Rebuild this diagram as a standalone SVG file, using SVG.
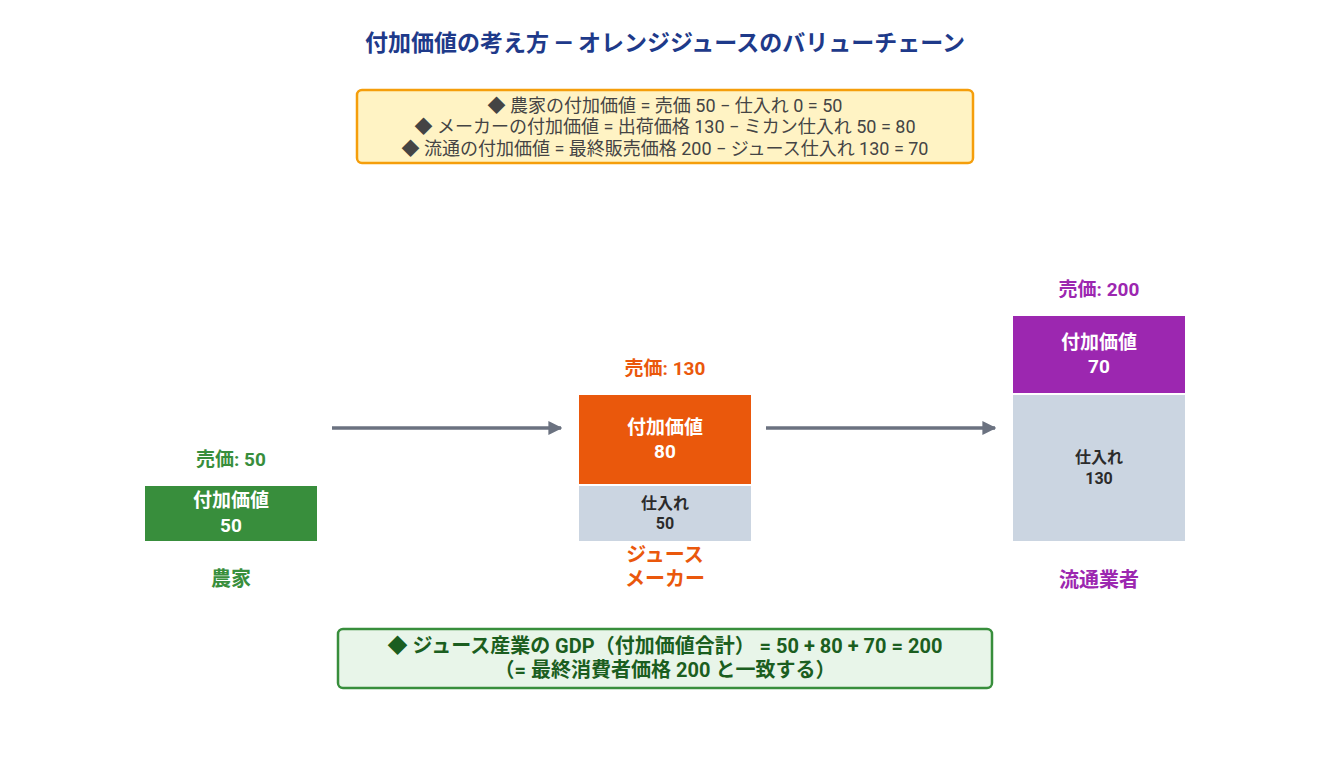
<svg xmlns="http://www.w3.org/2000/svg" width="1329" height="782" viewBox="0 0 1329 782">
<style>
text{font-family:"Roboto","Noto Sans CJK JP",sans-serif;text-anchor:middle}
.b{font-weight:bold}
.w{fill:#fff;font-weight:bold;font-size:19px}
.g{fill:#2b2b2b;font-weight:bold;font-size:16px}
.inp{fill:#cbd5e1;stroke:#fff;stroke-width:2}
</style>
<defs><marker id="ah" viewBox="0 0 10 10" refX="9" refY="5" markerWidth="4" markerHeight="4" orient="auto"><path d="M0,0L10,5L0,10z" fill="#6b7280"/></marker></defs>
<rect width="1329" height="782" fill="#fff"/>
<text x="665" y="51" class="b" font-size="23" fill="#1e3a8a">付加価値の考え方 ― オレンジジュースのバリューチェーン</text>
<g id="formula">
<rect x="357" y="90" width="616" height="73" rx="5" fill="#fff3c4" stroke="#f59e0b" stroke-width="2.5"/>
<text x="665" y="112" font-size="18" fill="#444">◆ 農家の付加価値 = 売価 50 − 仕入れ 0 = 50</text>
<text x="665" y="133" font-size="18" fill="#444">◆ メーカーの付加価値 = 出荷価格 130 − ミカン仕入れ 50 = 80</text>
<text x="665" y="155" font-size="18" fill="#444">◆ 流通の付加価値 = 最終販売価格 200 − ジュース仕入れ 130 = 70</text>
</g>
<g id="connectors" stroke="#6b7280" stroke-width="3.5" fill="none" marker-end="url(#ah)">
<line x1="332" y1="428" x2="561" y2="428"/>
<line x1="766" y1="428" x2="995" y2="428"/>
</g>
<g id="farmer">
<text x="231" y="466" class="b" font-size="19" fill="#388e3c">売価: 50</text>
<rect x="144" y="485" width="174" height="57" fill="#388e3c" stroke="#fff" stroke-width="2"/>
<text x="231" y="507" class="w">付加価値</text>
<text x="231" y="532" class="w">50</text>
<text x="231" y="586" class="b" font-size="20" fill="#388e3c">農家</text>
</g>
<g id="maker">
<text x="665" y="375" class="b" font-size="19" fill="#ea580c">売価: 130</text>
<rect x="578" y="394" width="174" height="91" fill="#ea580c" stroke="#fff" stroke-width="2"/>
<text x="665" y="434" class="w">付加価値</text>
<text x="665" y="458" class="w">80</text>
<rect x="578" y="485" width="174" height="57" class="inp"/>
<text x="665" y="509" class="g">仕入れ</text>
<text x="665" y="529" class="g">50</text>
<text x="665" y="562" class="b" font-size="20" fill="#ea580c">ジュース</text>
<text x="665" y="586" class="b" font-size="20" fill="#ea580c">メーカー</text>
</g>
<g id="distributor">
<text x="1099" y="296" class="b" font-size="19" fill="#9c27b0">売価: 200</text>
<rect x="1012" y="315" width="174" height="79" fill="#9c27b0" stroke="#fff" stroke-width="2"/>
<text x="1099" y="349" class="w">付加価値</text>
<text x="1099" y="373" class="w">70</text>
<rect x="1012" y="394" width="174" height="148" class="inp"/>
<text x="1099" y="463" class="g">仕入れ</text>
<text x="1099" y="484" class="g">130</text>
<text x="1099" y="587" class="b" font-size="20" fill="#9c27b0">流通業者</text>
</g>
<g id="gdp">
<rect x="338" y="629" width="654" height="59" rx="5" fill="#e8f5e9" stroke="#388e3c" stroke-width="2.5"/>
<text x="665" y="653" class="b" font-size="20" fill="#1b5e20">◆ ジュース産業の GDP（付加価値合計） = 50 + 80 + 70 = 200</text>
<text x="665" y="677" class="b" font-size="20" fill="#1b5e20">（= 最終消費者価格 200 と一致する）</text>
</g>
</svg>
